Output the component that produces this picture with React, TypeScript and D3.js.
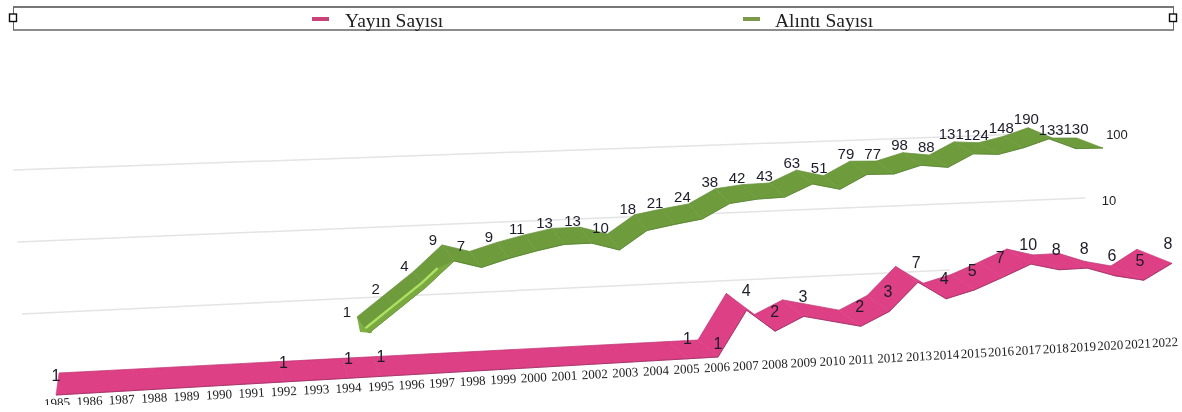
import React from "react";
import * as d3 from "d3";

const W = 1182;
const H = 412;

const years = d3.range(1985, 2023);
const publications: (number | null)[] = [
  1, null, null, null, null, null, null, 1, null, 1, 1, null, null, null, null, null, null, null, null, null,
  1, 1, 4, 2, 3, null, 2, 3, 7, 4, 5, 7, 10, 8, 8, 6, 5, 8,
];
const citations: (number | null)[] = [
  null, null, null, null, null, null, null, null, null, null,
  1, 2, 4, 9, 7, 9, 11, 13, 13, 10, 18, 21, 24, 38, 42, 43, 63, 51, 79, 77, 98, 88, 131, 124, 148, 190, 133, 130,
];
const legendLabels = ["Yayın Sayısı", "Alıntı Sayısı"];
const axisTicks = [10, 100];
const gridTicks = [1, 10, 100];

// projection of the 3D scene: log height, and screen position along each ribbon plane
const height = d3.scaleLog().domain([1, 100]).range([0, 150]);
const heightGreen = d3.scaleLog().domain([1, 100]).range([0, 142.8]);

const pinkX = d3.scaleLinear().domain([1985, 1995, 2006, 2013, 2022]).range([56, 381, 718, 918, 1172]);
const pinkBase = d3.scaleLinear().domain([56, 1172]).range([395, 331]);
const pinkDX = d3.scaleLinear().domain([1985, 2006, 2017, 2022]).range([3, -20, -24, -35]);
const pinkDY = d3.scaleLinear().domain([1985, 2006, 2017, 2022]).range([-22, -17, -15, -14]);
const pinkLabelDX = d3.scaleLinear().domain([2006, 2022]).range([0, -4]).clamp(true);
const pinkLabelDY = d3.scaleThreshold<number, number>().domain([2006, 2007]).range([-20, -14, -20]);

const greenX = d3.scaleLinear().domain([1995, 1998, 2012, 2016, 2020, 2022]).range([369, 454, 840, 948, 1049, 1103]);
const greenBase = d3.scaleLinear().domain([369, 1103]).range([333, 299]);
const greenDX = d3.scaleLinear().domain([1995, 2004, 2020, 2022]).range([-12, -12, -21, -26]);
const greenDY = d3.scaleLinear().domain([1995, 2004, 2020, 2022]).range([-16, -16, -11, -10]);
const greenLabelDX = d3.scaleLinear().domain([1995, 2022]).range([-10, -1]);
const greenLabelDY = d3.scaleLinear().domain([1995, 2022]).range([-5, -9]);

const tickX = d3.scaleLinear().domain([1985, 1995, 2006, 2013, 2022]).range([57, 381, 717, 919, 1165]);
const tickY = d3.scaleLinear().domain([1985, 1995, 2006, 2022]).range([402.5, 386, 367, 342]);

const gridY = d3.scaleLog().domain([1, 100]).range([314, 170]);
const gridLeft = d3.scaleLog().domain([1, 100]).range([22, 13]);
const gridRight = [950, 1085, 1085];
const gridRise = [44, 44, 38];

type P = { year: number; v: number; fx: number; fy: number; bx: number; by: number };

const pinkPts: P[] = years.flatMap((year, i) => {
  const v = publications[i];
  if (v == null) return [];
  const fx = pinkX(year);
  const fy = pinkBase(fx) - height(v);
  return [{ year, v, fx, fy, bx: fx + pinkDX(year), by: fy + pinkDY(year) }];
});
const greenPts: P[] = years.flatMap((year, i) => {
  const v = citations[i];
  if (v == null) return [];
  const fx = greenX(year);
  const fy = greenBase(fx) - heightGreen(v);
  return [{ year, v, fx, fy, bx: fx + greenDX(year), by: fy + greenDY(year) }];
});

const line2 = d3.line<[number, number]>();
const quad = (a: P, b: P) =>
  line2([[a.fx, a.fy], [b.fx, b.fy], [b.bx, b.by], [a.bx, a.by]]) + "Z";
const front = (pts: P[]) => line2(pts.map((p) => [p.fx, p.fy] as [number, number])) || "";
const back = (pts: P[]) => line2(pts.map((p) => [p.bx, p.by] as [number, number])) || "";

const Ribbon = ({ pts, fill, edge }: { pts: P[]; fill: string; edge: string }) => (
  <g>
    {d3.pairs(pts).map(([a, b]) => (
      <path key={a.year} d={quad(a, b)} fill={fill} stroke={fill} strokeWidth={0.6} strokeLinejoin="round" />
    ))}
    <path d={back(pts)} fill="none" stroke={edge} strokeWidth={0.6} opacity={0.5} />
    <path d={front(pts)} fill="none" stroke={edge} strokeWidth={1} strokeLinejoin="round" opacity={0.75} />
  </g>
);

// the lit fold of the first, steep stretch of the green ribbon
const highlightYears = [1995, 1996, 1997, 1998];
const foldShare = 0.3;
const foldBase = greenPts
  .filter((p) => highlightYears.includes(p.year))
  .map((p) => [p.fx + (p.bx - p.fx) * foldShare, p.fy + (p.by - p.fy) * foldShare] as [number, number]);
const foldEnd = d3.interpolateArray(foldBase[2], foldBase[3])(0.55) as [number, number];
const fold: [number, number][] = [foldBase[0], foldBase[1], foldBase[2], foldEnd];
const firstGreen = greenPts[0];
const foldStrip =
  line2([
    ...fold,
    ...greenPts.slice(0, 4).reverse().map((p) => [p.fx, p.fy] as [number, number]),
  ]) + "Z";
const greenCap =
  line2([
    [firstGreen.bx, firstGreen.by],
    [firstGreen.bx + 3, firstGreen.fy - 1],
    [firstGreen.fx + 3, firstGreen.fy],
    [firstGreen.fx, firstGreen.fy - 8],
  ]) + "Z";

export default function App() {
  const legendItems = [
    { x: 312, color: "#c9437a", tx: 345 },
    { x: 743, color: "#7c9a48", tx: 775 },
  ];
  return (
    <svg
      width={W}
      height={H}
      viewBox={`0 0 ${W} ${H}`}
      style={{ position: "absolute", left: 0, top: 0, background: "#fff" }}
    >
      <defs>
        <filter id="soft" x="-2%" y="-2%" width="104%" height="104%">
          <feGaussianBlur stdDeviation="0.45" />
        </filter>
        <clipPath id="page">
          <rect x={0} y={0} width={W} height={405} />
        </clipPath>
      </defs>
      <g filter="url(#soft)" clipPath="url(#page)">
        {/* legend */}
        <rect x={13.5} y={7} width={1160} height={23} fill="#fff" stroke="none" />
        <line x1={13} x2={1174} y1={7} y2={7} stroke="#777" strokeWidth={2} />
        <line x1={13} x2={1174} y1={30} y2={30} stroke="#666" strokeWidth={1.3} />
        <line x1={13.5} x2={13.5} y1={7} y2={30} stroke="#666" strokeWidth={1} />
        <line x1={1173.5} x2={1173.5} y1={7} y2={30} stroke="#666" strokeWidth={1} />
        {[13, 1173].map((x) => (
          <rect key={x} x={x - 3.5} y={14} width={7} height={7.5} fill="#fff" stroke="#111" strokeWidth={1.4} />
        ))}
        {legendItems.map((d, i) => (
          <g key={i}>
            <rect x={d.x} y={17} width={17} height={4} fill={d.color} />
            <text x={d.tx} y={26.5} fontFamily="'Liberation Serif'" fontSize={19.5} fill="#222">
              {legendLabels[i]}
            </text>
          </g>
        ))}

        {/* grid walls */}
        {gridTicks.map((t, i) => (
          <line
            key={t}
            x1={gridLeft(t)}
            x2={gridRight[i]}
            y1={gridY(t)}
            y2={gridY(t) - gridRise[i]}
            stroke="#e4e4e4"
            strokeWidth={1.5}
          />
        ))}
        {axisTicks.map((t, i) => (
          <text
            key={t}
            x={i === 0 ? 1109 : 1117}
            y={gridY(t) - gridRise[i + 1] + 7}
            textAnchor="middle"
            fontFamily="'Liberation Sans'"
            fontSize={13}
            fill="#222"
          >
            {t}
          </text>
        ))}

        {/* ribbons */}
        <path d={greenCap} fill="#7fb045" />
        <Ribbon pts={greenPts} fill="#6e9c3d" edge="#4f7d2a" />
        <path d={foldStrip} fill="#7aa942" />
        <path d={line2(fold) || ""} fill="none" stroke="#aee062" strokeWidth={2.4} />
        <Ribbon pts={pinkPts} fill="#dd3f85" edge="#8f2a5e" />

        {/* tick labels */}
        {years.map((y) => (
          <text
            key={y}
            transform={`translate(${tickX(y)},${tickY(y)}) rotate(-3)`}
            dy="0.35em"
            textAnchor="middle"
            fontFamily="'Liberation Serif'"
            fontSize={13}
            fill="#1c1c1c"
          >
            {y}
          </text>
        ))}

        {/* value labels */}
        {greenPts.map((p) => (
          <text
            key={p.year}
            x={p.bx + greenLabelDX(p.year)}
            y={p.by + greenLabelDY(p.year)}
            dy="0.35em"
            textAnchor="middle"
            fontFamily="'Liberation Sans'"
            fontSize={15}
            fill="#1c1c2a"
          >
            {p.v}
          </text>
        ))}
        {pinkPts.map((p) => (
          <text
            key={p.year}
            x={p.fx + pinkLabelDX(p.year)}
            y={p.fy + pinkLabelDY(p.year)}
            dy="0.35em"
            textAnchor="middle"
            fontFamily="'Liberation Sans'"
            fontSize={16}
            fill="#1c1c2a"
          >
            {p.v}
          </text>
        ))}
      </g>
    </svg>
  );
}
